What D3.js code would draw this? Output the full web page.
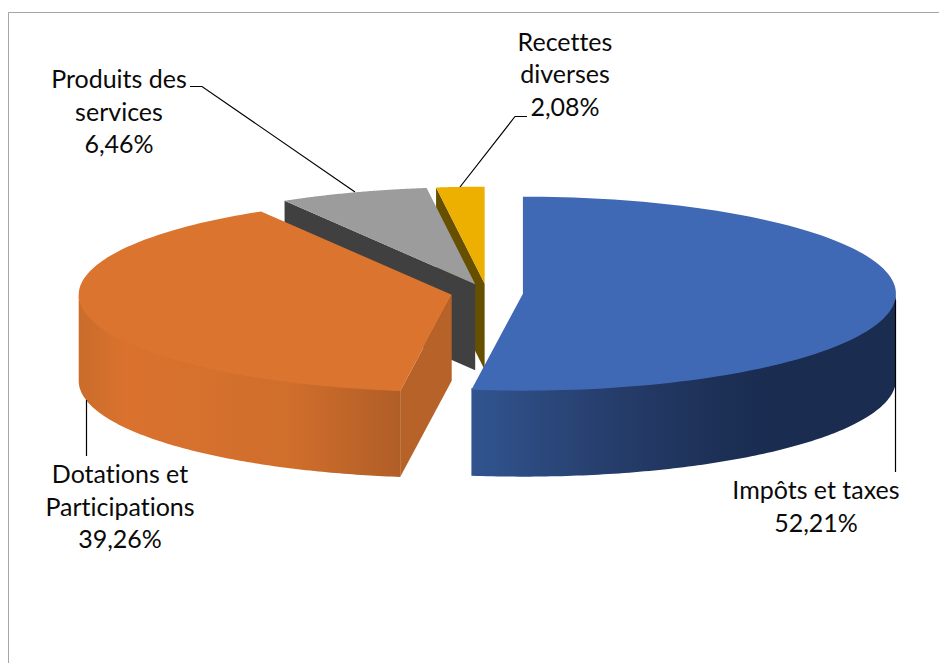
<!DOCTYPE html>
<html><head><meta charset="utf-8">
<script src="https://cdn.jsdelivr.net/npm/d3@7"></script>
<style>html,body{margin:0;padding:0;background:#fff}svg{display:block}text{font-family:Lato,"Open Sans",sans-serif;fill:#0a0a0a;font-variant-ligatures:none}</style>
</head><body><svg id="c" width="939" height="663"></svg>
<script>
// Data
const categories = ["Impôts et taxes", "Dotations et Participations", "Produits des services", "Recettes diverses"];
const shares = [52.21, 39.26, 6.46, 2.08];
const shareLabels = ["52,21%", "39,26%", "6,46%", "2,08%"];

// Styling per category
const topColors = ["#4069b5", "#db742e", "#9c9c9c", "#edb000"];
const faceColors = ["#2f5391", "#b76228", "#404040", "#665000"];
const labelLines = [["Impôts et taxes"], ["Dotations et", "Participations"], ["Produits des", "services"], ["Recettes", "diverses"]];
const labelX = [816, 120, 119, 565];
const labelY = [499, 483, 88, 50.5];
const leaders = [
  [[895.5, 300], [895.5, 472]],
  [[86.5, 400], [86.5, 456]],
  [[190, 86.5], [202, 86.5], [355, 192]],
  [[527, 116.5], [515, 116.5], [460, 187]]
];

const W = 939, H = 663;
const cx = 487, cy = 293, rx = 373, ry = 97, depth = 86, explode = 36;
const svg = d3.select("#c");

const defs = svg.append("defs");
function grad(id, stops) {
  const g = defs.append("linearGradient").attr("id", id).attr("gradientUnits", "userSpaceOnUse")
    .attr("x1", 0).attr("x2", W).attr("y1", 0).attr("y2", 0);
  stops.forEach(([x, c]) => g.append("stop").attr("offset", x / W).attr("stop-color", c));
}
grad("wall0", [[472, "#31548f"], [600, "#273f6e"], [725, "#1c2f55"], [770, "#1a2c50"], [895, "#1a2c50"]]);
grad("wall1", [[78, "#c96c2c"], [125, "#da722e"], [290, "#d06e2c"], [400, "#b05e27"]]);

svg.append("path").attr("d", `M8.5,${H}V12.5H${W}`).attr("fill", "none").attr("stroke", "#a6a6a6").attr("stroke-width", 1);

const arcs = d3.pie().sort(null).value(d => d)(shares);
const line = d3.line();
const lineAt = pts => line(pts) + "Z";

arcs.forEach(a => {
  const mid = (a.startAngle + a.endAngle) / 2;
  a.ox = cx + explode * Math.sin(mid);
  a.oy = cy - explode * Math.cos(mid) * ry / rx;
  a.pt = t => [a.ox + rx * Math.sin(t), a.oy - ry * Math.cos(t)];
});
const sample = (t0, t1) => d3.range(0, 121).map(i => t0 + (t1 - t0) * i / 120);

const drawOrder = [3, 2, 1, 0];
drawOrder.forEach(i => {
  const a = arcs[i];
  const g = svg.append("g");
  const apex = [a.ox, a.oy];
  const s = a.startAngle, e = a.endAngle;
  // radial wall facing the viewer (start side of the slices on the left)
  if (s > Math.PI) {
    const p = a.pt(s);
    g.append("path").attr("d", lineAt([apex, p, [p[0], p[1] + depth], [apex[0], apex[1] + depth]]))
      .attr("fill", faceColors[i]);
  }
  // outer wall over the front half of the ellipse, tucked slightly under the cap
  const t0 = Math.max(s, Math.PI / 2), t1 = Math.min(e, 3 * Math.PI / 2);
  if (t1 > t0) {
    const upper = sample(t0, t1).map(a.pt).map(p => [p[0], p[1] - 1.5]);
    const lower = sample(t0, t1).map(a.pt).map(p => [p[0], p[1] + depth]).reverse();
    g.append("path").attr("d", lineAt(upper.concat(lower))).attr("fill", `url(#wall${i})`);
  }
  // top cap
  g.append("path").attr("d", lineAt([apex].concat(sample(s, e).map(a.pt)))).attr("fill", topColors[i]);
});

leaders.forEach(l => svg.append("path").attr("d", line(l)).attr("fill", "none").attr("stroke", "#000").attr("stroke-width", 1.2));

const fs = 25, lh = 32.5;
categories.forEach((c, i) => {
  const t = svg.append("text").attr("text-anchor", "middle").attr("font-size", fs);
  labelLines[i].concat([shareLabels[i]]).forEach((s, k) => {
    t.append("tspan").attr("x", labelX[i]).attr("y", labelY[i] + k * lh).text(s);
  });
});
</script></body></html>
